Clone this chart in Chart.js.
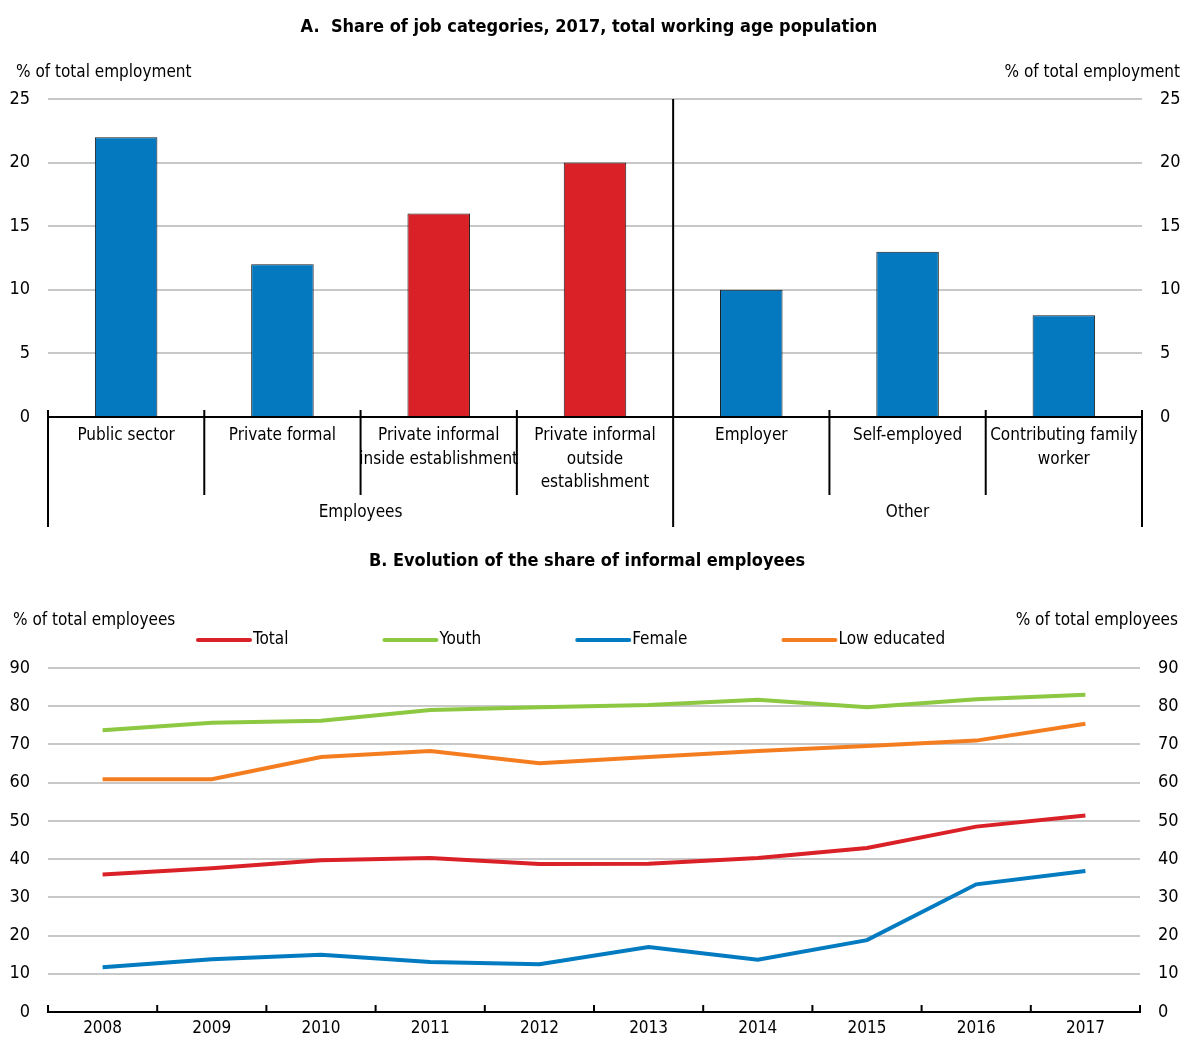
<!DOCTYPE html>
<html>
<head>
<meta charset="utf-8">
<script src="https://cdn.jsdelivr.net/npm/chart.js@4.4.1/dist/chart.umd.min.js"></script>
<style>
  body { margin: 0; background: #fff; }
  #wrapA { position: absolute; left: 0; top: 0; width: 1183px; height: 540px; }
  #wrapB { position: absolute; left: 0; top: 540px; width: 1183px; height: 497px; }
</style>
</head>
<body>
<div id="wrapA"><canvas id="chartA" width="1183" height="540"></canvas></div>
<div id="wrapB"><canvas id="chartB" width="1183" height="497"></canvas></div>
<script>
// panel A data
var jobCategories = [
    ['Public sector'],
    ['Private formal'],
    ['Private informal', 'inside establishment'],
    ['Private informal', 'outside', 'establishment'],
    ['Employer'],
    ['Self-employed'],
    ['Contributing family', 'worker']
];
var jobShares = [22, 12, 16, 20, 10, 13, 8];
var jobInformal = [false, false, true, true, false, false, false];
var groupNames = ['Employees', 'Other'];
var groupSizes = [4, 3];

// panel B data
var years = ['2008', '2009', '2010', '2011', '2012', '2013', '2014', '2015', '2016', '2017'];
var totalShare = [36.0, 37.6, 39.7, 40.3, 38.7, 38.8, 40.3, 42.9, 48.5, 51.4];
var youthShare = [73.7, 75.7, 76.2, 79.0, 79.7, 80.3, 81.7, 79.7, 81.8, 83.0];
var femaleShare = [11.7, 13.8, 15.0, 13.1, 12.5, 17.0, 13.7, 18.8, 33.4, 36.9];
var lowEduShare = [60.9, 60.9, 66.7, 68.3, 65.1, 66.7, 68.3, 69.6, 71.0, 75.4];

var FONT = "'Liberation Sans Narrow', 'Arial Narrow', 'DejaVu Sans Condensed', sans-serif";
var BLUE = '#0579c0';
var RED = '#da2128';
var GRID = '#c8c8c8';
var NONE = 'rgba(0,0,0,0)';

Chart.defaults.font.family = FONT;
Chart.defaults.font.size = 17;
Chart.defaults.color = '#000';

function gridColor(c) {
    return c.tick && c.tick.value === 0 ? NONE : GRID;
}

function line(ctx, x1, y1, x2, y2) {
    ctx.beginPath();
    ctx.moveTo(x1, y1);
    ctx.lineTo(x2, y2);
    ctx.stroke();
}

// category boundary in pixels (0 .. n)
function edgeX(chart, i) {
    var sc = chart.scales.x, ca = chart.chartArea, n = sc.ticks.length;
    if (i === 0) return ca.left;
    if (i === n) return ca.right;
    return (sc.getPixelForValue(i - 1) + sc.getPixelForValue(i)) / 2;
}

// value axes: labels pushed 18px off the plot with invisible tick marks
function valueAxis(pos, max, step, width, showGrid) {
    return {
        position: pos, min: 0, max: max,
        ticks: { stepSize: step, padding: 0, font: { size: 18 } },
        grid: { color: showGrid ? gridColor : NONE, drawOnChartArea: showGrid, lineWidth: 2, tickLength: 18, tickColor: NONE },
        border: { display: false },
        afterFit: function (s) { s.width = width; }
    };
}

var decoA = {
    id: 'decoA',
    afterDraw: function (chart) {
        var ctx = chart.ctx, ca = chart.chartArea;
        ctx.save();
        ctx.fillStyle = '#000';
        ctx.textBaseline = 'middle';
        ctx.font = 'bold 18px ' + FONT;
        ctx.textAlign = 'center';
        ctx.fillText('A.  Share of job categories, 2017, total working age population', 589, 27);
        ctx.font = '17px ' + FONT;
        ctx.textAlign = 'left';
        ctx.fillText('% of total employment', 16, 73);
        ctx.textAlign = 'right';
        ctx.fillText('% of total employment', 1180, 73);

        ctx.strokeStyle = '#000';
        ctx.lineWidth = 2;
        var n = jobCategories.length;
        var starts = [0];
        groupSizes.forEach(function (s) { starts.push(starts[starts.length - 1] + s); });
        for (var i = 0; i <= n; i++) {
            var x = edgeX(chart, i);
            if (starts.indexOf(i) >= 0) {
                var top = (i > 0 && i < n) ? ca.top : ca.bottom - 7;
                line(ctx, x, top, x, ca.bottom + 110);
            } else {
                line(ctx, x, ca.bottom - 7, x, ca.bottom + 78);
            }
        }
        ctx.textAlign = 'center';
        for (var g = 0; g < groupNames.length; g++) {
            var cx = (edgeX(chart, starts[g]) + edgeX(chart, starts[g + 1])) / 2;
            ctx.fillText(groupNames[g], cx, ca.bottom + 96);
        }
        ctx.restore();
    }
};

new Chart(document.getElementById('chartA'), {
    type: 'bar',
    data: {
        labels: jobCategories,
        datasets: [{
            data: jobShares,
            backgroundColor: jobInformal.map(function (f) { return f ? RED : BLUE; }),
            borderColor: '#1a1a1a',
            borderWidth: 1,
            barPercentage: 0.4,
            categoryPercentage: 1
        }]
    },
    options: {
        responsive: false,
        animation: false,
        layout: { padding: { top: 99, left: 0, right: 0, bottom: 0 } },
        plugins: { legend: { display: false }, tooltip: { enabled: false } },
        scales: {
            x: {
                grid: { display: false, drawTicks: false },
                border: { color: '#000', width: 2 },
                ticks: { maxRotation: 0, autoSkip: false, padding: 7, font: { size: 17, lineHeight: 1.38 } },
                afterFit: function (s) { s.height = 123; }
            },
            y: valueAxis('left', 25, 5, 48, true),
            y2: valueAxis('right', 25, 5, 41, false)
        }
    },
    plugins: [decoA]
});

var decoB = {
    id: 'decoB',
    afterDraw: function (chart) {
        var ctx = chart.ctx, ca = chart.chartArea;
        ctx.save();
        ctx.fillStyle = '#000';
        ctx.textBaseline = 'middle';
        ctx.font = 'bold 18px ' + FONT;
        ctx.textAlign = 'center';
        ctx.fillText('B. Evolution of the share of informal employees', 587, 21);
        ctx.font = '17px ' + FONT;
        ctx.textAlign = 'left';
        ctx.fillText('% of total employees', 13, 81);
        ctx.textAlign = 'right';
        ctx.fillText('% of total employees', 1178, 81);

        // legend
        ctx.textAlign = 'left';
        var lx = 198, ly = 100;
        chart.data.datasets.forEach(function (ds) {
            ctx.strokeStyle = ds.borderColor;
            ctx.lineWidth = 4;
            ctx.lineCap = 'round';
            line(ctx, lx, ly, lx + 52, ly);
            ctx.fillText(ds.label, lx + 55, ly);
            lx += 55 + ctx.measureText(ds.label).width + 96;
        });

        // tick marks on the x axis
        ctx.strokeStyle = '#000';
        ctx.lineWidth = 2;
        ctx.lineCap = 'butt';
        for (var i = 0; i <= years.length; i++) {
            var x = edgeX(chart, i);
            line(ctx, x, ca.bottom - 7, x, ca.bottom);
        }
        ctx.restore();
    }
};

function lineSet(label, data, color) {
    return { label: label, data: data, borderColor: color, backgroundColor: color, borderWidth: 4, pointRadius: 0, tension: 0, fill: false };
}

new Chart(document.getElementById('chartB'), {
    type: 'line',
    data: {
        labels: years,
        datasets: [
            lineSet('Total', totalShare, RED),
            lineSet('Youth', youthShare, '#8cc841'),
            lineSet('Female', femaleShare, '#037bc1'),
            lineSet('Low educated', lowEduShare, '#f47d20')
        ]
    },
    options: {
        responsive: false,
        animation: false,
        layout: { padding: { top: 128, left: 0, right: 0, bottom: 0 } },
        plugins: { legend: { display: false }, tooltip: { enabled: false } },
        scales: {
            x: {
                offset: true,
                grid: { display: false, drawTicks: false },
                border: { color: '#000', width: 2 },
                ticks: { maxRotation: 0, autoSkip: false, padding: 6 },
                afterFit: function (s) { s.height = 25; }
            },
            y: valueAxis('left', 90, 10, 48, true),
            y2: valueAxis('right', 90, 10, 43, false)
        }
    },
    plugins: [decoB]
});
</script>
</body>
</html>
